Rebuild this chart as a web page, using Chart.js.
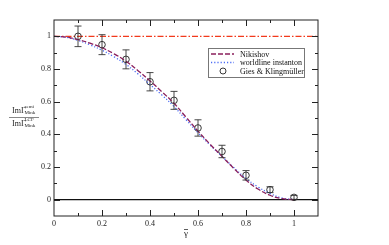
<!DOCTYPE html>
<html>
<head>
<meta charset="utf-8">
<script src="https://cdn.jsdelivr.net/npm/chart.js@4.4.1/dist/chart.umd.min.js"></script>
<style>
  html, body { margin: 0; padding: 0; background: #fff; }
</style>
</head>
<body>
<canvas id="chart" width="389" height="245"></canvas>
<script>
// curves
const curveX    = [0, 0.05, 0.1, 0.15, 0.2, 0.25, 0.3, 0.35, 0.4, 0.45, 0.5, 0.55, 0.6, 0.65, 0.7, 0.75, 0.8, 0.85, 0.9, 0.95, 1.0];
const nikishov  = [1.0, 0.995, 0.98, 0.958, 0.93, 0.893, 0.848, 0.79, 0.727, 0.66, 0.59, 0.505, 0.42, 0.34, 0.265, 0.19, 0.12, 0.065, 0.027, 0.006, 0.0];
const worldline = [1.0, 0.994, 0.975, 0.948, 0.915, 0.875, 0.828, 0.77, 0.705, 0.64, 0.57, 0.49, 0.41, 0.335, 0.265, 0.195, 0.13, 0.078, 0.038, 0.01, 0.0];

// Gies & Klingmüller points
const gkX   = [0.1, 0.2, 0.3, 0.4, 0.5, 0.6, 0.7, 0.8, 0.9, 1.0];
const gkY   = [1.0, 0.949, 0.859, 0.722, 0.608, 0.439, 0.295, 0.149, 0.061, 0.014];
const gkErr = [0.063, 0.061, 0.058, 0.056, 0.055, 0.05, 0.038, 0.029, 0.018, 0.012];

// reference lines
const refX = [0, 1.1];
const oneLine = [1, 1];
const zeroLine = [0, 0];

const labelFont = "'Liberation Serif', 'DejaVu Serif', serif";

function pts(xs, ys) { return xs.map((x, i) => ({ x: x, y: ys[i] })); }

function tickLabel(v) {
  const r = Math.round(v * 10) / 10;
  if (r < 0 || r > 1) return "";
  if (Math.round(r * 10) % 2 !== 0) return "";
  if (r === 0) return "0";
  if (r === 1) return "1";
  return r.toFixed(1);
}

// error bars, inward ticks, frame, legend and y title
const decorPlugin = {
  id: "decor",
  afterDatasetsDraw(chart) {
    const ctx = chart.ctx;
    const xs = chart.scales.x, ys = chart.scales.y;
    const a = chart.chartArea;

    // error bars
    ctx.save();
    ctx.strokeStyle = "#333";
    ctx.lineWidth = 0.9;
    gkX.forEach((x, i) => {
      const px = xs.getPixelForValue(x);
      const top = ys.getPixelForValue(gkY[i] + gkErr[i]);
      const bot = ys.getPixelForValue(gkY[i] - gkErr[i]);
      ctx.beginPath();
      ctx.moveTo(px, top); ctx.lineTo(px, bot);
      ctx.moveTo(px - 3.5, top); ctx.lineTo(px + 3.5, top);
      ctx.moveTo(px - 3.5, bot); ctx.lineTo(px + 3.5, bot);
      ctx.stroke();
    });
    ctx.restore();

    // frame + ticks
    ctx.save();
    ctx.strokeStyle = "#222";
    ctx.lineWidth = 1;
    ctx.strokeRect(a.left, a.top, a.right - a.left, a.bottom - a.top);
    ctx.beginPath();
    for (let k = 1; k <= 10; k++) {
      const v = k / 10;
      const len = k % 2 === 0 ? 6 : 3;
      const px = Math.round(xs.getPixelForValue(v)) + 0.5;
      ctx.moveTo(px, a.bottom); ctx.lineTo(px, a.bottom - len);
      ctx.moveTo(px, a.top); ctx.lineTo(px, a.top + len);
    }
    for (let k = 0; k <= 10; k++) {
      const v = k / 10;
      const len = k % 2 === 0 ? 6 : 3;
      const py = Math.round(ys.getPixelForValue(v)) + 0.5;
      ctx.moveTo(a.left, py); ctx.lineTo(a.left + len, py);
      ctx.moveTo(a.right, py); ctx.lineTo(a.right - len, py);
    }
    ctx.stroke();
    ctx.restore();

    // legend
    ctx.save();
    const lx = 208.5, ly = 48.5, lw = 96, lh = 29;
    ctx.strokeStyle = "#777";
    ctx.lineWidth = 1;
    ctx.fillStyle = "#fff";
    ctx.fillRect(lx, ly, lw, lh);
    ctx.strokeRect(lx, ly, lw, lh);
    const rows = [54, 62.5, 71];
    chart.data.datasets.slice(0, 3).forEach((ds, i) => {
      const y = rows[i];
      if (ds.showLine) {
        ctx.strokeStyle = ds.borderColor;
        ctx.lineWidth = ds.borderWidth;
        ctx.setLineDash(ds.borderDash);
        ctx.beginPath();
        ctx.moveTo(211, y); ctx.lineTo(234, y);
        ctx.stroke();
        ctx.setLineDash([]);
      } else {
        ctx.strokeStyle = "#222";
        ctx.lineWidth = 0.9;
        ctx.beginPath();
        ctx.arc(223, y, 3, 0, Math.PI * 2);
        ctx.stroke();
      }
      ctx.fillStyle = "#111";
      ctx.font = "8px " + labelFont;
      ctx.textBaseline = "middle";
      ctx.textAlign = "left";
      ctx.fillText(ds.label, 240, y + 0.5);
    });
    ctx.restore();

    // y title as a fraction
    ctx.save();
    ctx.fillStyle = "#222";
    ctx.textBaseline = "alphabetic";
    ctx.textAlign = "left";
    ctx.font = "8px " + labelFont;
    ctx.fillText("ImΓ", 12, 113);
    ctx.fillText("ImΓ", 12, 126);
    ctx.font = "5px " + labelFont;
    ctx.fillText("semi", 24.5, 108);
    ctx.fillText("Mink", 24.5, 114);
    ctx.fillText("LCF", 24.5, 121);
    ctx.fillText("Mink", 24.5, 127);
    ctx.strokeStyle = "#888";
    ctx.lineWidth = 1;
    ctx.beginPath();
    ctx.moveTo(9, 117.5); ctx.lineTo(39, 117.5);
    ctx.stroke();

    // x title: gamma with a bar
    const cx = (a.left + a.right) / 2;
    ctx.font = "9px " + labelFont;
    ctx.textAlign = "center";
    ctx.textBaseline = "middle";
    ctx.fillText("γ", cx, 234);
    ctx.strokeStyle = "#333";
    ctx.lineWidth = 0.8;
    ctx.beginPath();
    ctx.moveTo(cx - 2, 229.5); ctx.lineTo(cx + 2, 229.5);
    ctx.stroke();
    ctx.restore();
  }
};

new Chart(document.getElementById("chart").getContext("2d"), {
  type: "scatter",
  data: {
    datasets: [
      {
        label: "Nikishov",
        data: pts(curveX, nikishov),
        showLine: true,
        borderColor: "#8a1f5c",
        borderWidth: 1.3,
        borderDash: [5, 2],
        pointRadius: 0,
        tension: 0.4
      },
      {
        label: "worldline instanton",
        data: pts(curveX, worldline),
        showLine: true,
        borderColor: "#4a6cf5",
        borderWidth: 1.3,
        borderDash: [1.2, 2],
        pointRadius: 0,
        tension: 0.4
      },
      {
        label: "Gies & Klingmüller",
        data: pts(gkX, gkY),
        showLine: false,
        pointStyle: "circle",
        pointRadius: 3.3,
        pointBackgroundColor: "rgba(0,0,0,0)",
        pointBorderColor: "#222",
        pointBorderWidth: 0.9
      },
      {
        label: "one",
        data: pts(refX, oneLine),
        showLine: true,
        borderColor: "#f23a1c",
        borderWidth: 1.1,
        borderDash: [6, 2, 1.5, 2],
        pointRadius: 0
      },
      {
        label: "zero",
        data: pts(refX, zeroLine),
        showLine: true,
        borderColor: "#111",
        borderWidth: 1.1,
        pointRadius: 0
      }
    ]
  },
  options: {
    responsive: false,
    animation: false,
    layout: { padding: { top: 20, right: 71, left: 0, bottom: 0 } },
    plugins: { legend: { display: false }, tooltip: { enabled: false } },
    scales: {
      x: {
        type: "linear",
        min: 0, max: 1.1,
        grid: { display: false, drawTicks: false },
        border: { display: false },
        afterFit: s => { s.height = 29; },
        ticks: {
          stepSize: 0.1,
          autoSkip: false,
          maxRotation: 0,
          padding: 3,
          color: "#222",
          font: { family: labelFont, size: 8 },
          callback: v => tickLabel(v)
        }
      },
      y: {
        type: "linear",
        min: -0.1, max: 1.1,
        grid: { display: false, drawTicks: false },
        border: { display: false },
        afterFit: s => { s.width = 54; },
        ticks: {
          stepSize: 0.1,
          autoSkip: false,
          padding: 3,
          color: "#222",
          font: { family: labelFont, size: 8 },
          callback: v => tickLabel(v)
        }
      }
    }
  },
  plugins: [decorPlugin]
});
</script>
</body>
</html>
